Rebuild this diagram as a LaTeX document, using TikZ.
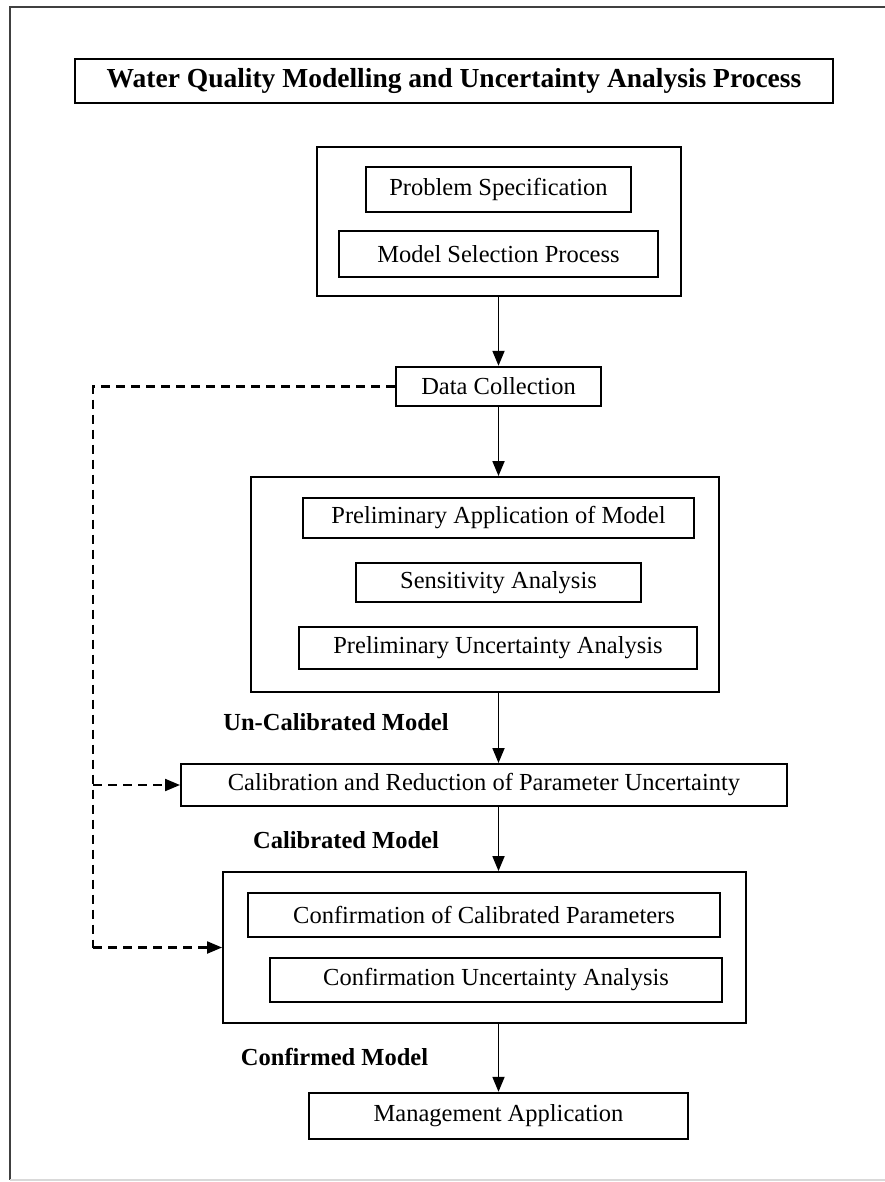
\documentclass[tikz,border=0pt]{standalone}
\usepackage{fontspec}
\setmainfont{Liberation Serif}
\usetikzlibrary{arrows.meta}

\tikzset{
  body/.style={font=\fontsize{24.5}{29}\selectfont},
  groupbox/.style={draw, line width=1.9pt, inner sep=0pt, minimum width=#1},
  stepbox/.style={draw, line width=2.8pt, inner sep=0pt, body},
  plainbox/.style={draw, line width=2.4pt, inner sep=0pt, body},
  tagtext/.style={inner sep=0pt, font=\fontsize{24.5}{29}\selectfont\bfseries},
  flow/.style={line width=1.8pt, -{Triangle[length=15pt,width=12pt]}},
  feedback/.style={line width=2.1pt, dash pattern=on 9pt off 6pt, -{Triangle[length=15pt,width=12pt]}},
  feedline/.style={line width=2.1pt, dash pattern=on 9pt off 6pt}
}

\begin{document}
\begin{tikzpicture}[x=1pt,y=-1pt]
\useasboundingbox (0,0) rectangle (884,1182);
\fill[white] (0,0) rectangle (884,1182);

% page frame
\draw[line width=2.4pt, black!75] (900,7) -- (10,7) -- (10,1180);
\draw[line width=1.2pt, black!15] (10,1180) -- (900,1180);

% heading
\node[draw, line width=2.6pt, inner sep=0pt, minimum width=758pt, minimum height=44pt,
      font=\fontsize{27.5}{32}\selectfont\bfseries] (title) at (454,81)
      {Water Quality Modelling and Uncertainty Analysis Process};

% problem definition group
\node[groupbox=364pt, minimum height=149pt] (g1) at (499,221.5) {};
\node[stepbox, minimum width=265pt, minimum height=45pt] (prob) at (498.5,189.5) {Problem Specification};
\node[stepbox, minimum width=319pt, minimum height=46pt] (msel) at (498.5,254) {Model Selection Process};

% data
\node[plainbox, minimum width=205pt, minimum height=39pt] (data) at (498.5,386.5) {Data Collection};

% preliminary analysis group
\node[groupbox=468pt, minimum height=215pt] (g2) at (485,584.5) {};
\node[stepbox, minimum width=391pt, minimum height=40pt] (prel) at (498.5,518) {Preliminary Application of Model};
\node[stepbox, minimum width=285pt, minimum height=39pt] (sens) at (498.5,582.5) {Sensitivity Analysis};
\node[stepbox, minimum width=398pt, minimum height=42pt] (pun) at (498,648) {Preliminary Uncertainty Analysis};

\node[tagtext] (uncal) at (336,722) {Un-Calibrated Model};

% calibration
\node[draw, line width=2pt, inner sep=0pt, body, minimum width=606pt, minimum height=42pt] (calib) at (484,785)
  {Calibration and Reduction of Parameter Uncertainty};

\node[tagtext] (cal) at (346,840) {Calibrated Model};

% confirmation group
\node[groupbox=523pt, minimum height=151pt] (g3) at (484.5,947.5) {};
\node[stepbox, minimum width=472pt, minimum height=44pt] (conf1) at (484,915) {Confirmation of Calibrated Parameters};
\node[stepbox, minimum width=452pt, minimum height=44pt] (conf2) at (496,980) {Confirmation Uncertainty Analysis};

\node[tagtext] (confd) at (334.5,1057) {Confirmed Model};

% application
\node[plainbox, minimum width=379pt, minimum height=46pt] (mgmt) at (498.5,1116) {Management Application};

% main flow
\coordinate (spine) at (498.5,0);
\draw[flow] (spine |- g1.south) -- (spine |- data.north);
\draw[flow] (spine |- data.south) -- (spine |- g2.north);
\draw[flow] (spine |- g2.south) -- (spine |- calib.north);
\draw[flow] (spine |- calib.south) -- (spine |- g3.north);
\draw[flow] (spine |- g3.south) -- (spine |- mgmt.north);

% data feedback
\coordinate (rail) at (93,386.5);
\draw[feedline] (data.west) -- (rail) -- (rail |- g3.west);
\draw[feedback] (rail |- calib.west) -- (calib.west);
\draw[feedback] (rail |- g3.west) -- (g3.west);
\end{tikzpicture}
\end{document}
